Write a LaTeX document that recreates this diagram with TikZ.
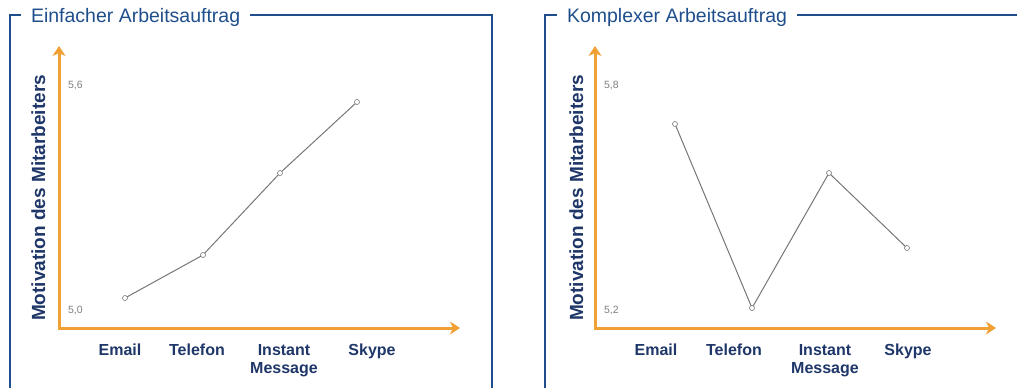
\documentclass[tikz,border=0pt]{standalone}
\usepackage{fontspec}
\setmainfont{Liberation Sans}
\usetikzlibrary{arrows.meta}

\definecolor{framebl}{RGB}{31,78,140}
\definecolor{labelbl}{RGB}{30,54,104}
\definecolor{axisor}{RGB}{240,160,52}
\definecolor{plotgr}{RGB}{118,118,118}

\begin{document}
\begin{tikzpicture}[
            x=1pt, y=-1pt,
            every node/.style={inner sep=0pt, outer sep=0pt},
            frame/.style={draw=framebl, line width=2pt},
            paneltitle/.style={anchor=base west, text=framebl, font=\fontsize{19.5}{22}\selectfont},
            axis/.style={draw=axisor, line width=3pt, {Stealth[length=10pt,width=13pt,inset=3pt]}-{Stealth[length=10pt,width=13pt,inset=3pt]}},
            ylabel/.style={rotate=90, anchor=base, text=labelbl, font=\bfseries\fontsize{19}{22}\selectfont},
            category/.style={anchor=base, align=center, text=labelbl, font=\bfseries\fontsize{16}{18}\selectfont},
            ticklabel/.style={anchor=base west, text=gray, font=\fontsize{10.5}{12}\selectfont},
            marker/.style={circle, draw=plotgr, fill=white, minimum size=5pt, line width=0.6pt},
            curve/.style={draw=plotgr, line width=1pt}
        ]
            \useasboundingbox (0,0) rectangle (1017,388);

            % left panel
            \node[paneltitle] (titleA) at (31,23) {Einfacher Arbeitsauftrag};
            \draw[frame] (21,15) -- (10,15) -- (10,392);
            \draw[frame] (250,15) -- (492,15) -- (492,392);
            \coordinate (originA) at (59,328);
            \coordinate (topA) at (59,46);
            \coordinate (rightA) at (460,328);
            \draw[axis] (topA) -- (originA) -- (rightA);
            \node[ylabel] (ylabA) at (45,198) {Motivation des Mitarbeiters};
            \node[ticklabel] (maxA) at (68,88) {5,6};
            \node[ticklabel] (minA) at (68,313) {5,0};
            \foreach \n/\x/\y in {a1/125/298, a2/203/255, a3/280/173, a4/357/102}
                \node[marker] (\n) at (\x,\y) {};
            \draw[curve] (a1) -- (a2) -- (a3) -- (a4);
            \node[category] (emailA) at (120,355) {Email};
            \node[category] (telA) at (197,355) {Telefon};
            \node[category] (imA) at (284,373) {Instant\\Message};
            \node[category] (skypeA) at (372,355) {Skype};

            % right panel
            \node[paneltitle] (titleB) at (567,23) {Komplexer Arbeitsauftrag};
            \draw[frame] (557,15) -- (545,15) -- (545,392);
            \draw[frame] (797,15) -- (1020,15);
            \coordinate (originB) at (595,328);
            \coordinate (topB) at (595,46);
            \coordinate (rightB) at (996,328);
            \draw[axis] (topB) -- (originB) -- (rightB);
            \node[ylabel] (ylabB) at (583,198) {Motivation des Mitarbeiters};
            \node[ticklabel] (maxB) at (604,88) {5,8};
            \node[ticklabel] (minB) at (604,313) {5,2};
            \foreach \n/\x/\y in {b1/675/124, b2/752/308, b3/829/173, b4/907/248}
                \node[marker] (\n) at (\x,\y) {};
            \draw[curve] (b1) -- (b2) -- (b3) -- (b4);
            \node[category] (emailB) at (656,355) {Email};
            \node[category] (telB) at (734,355) {Telefon};
            \node[category] (imB) at (825,373) {Instant\\Message};
            \node[category] (skypeB) at (908,355) {Skype};
        \end{tikzpicture}
\end{document}
